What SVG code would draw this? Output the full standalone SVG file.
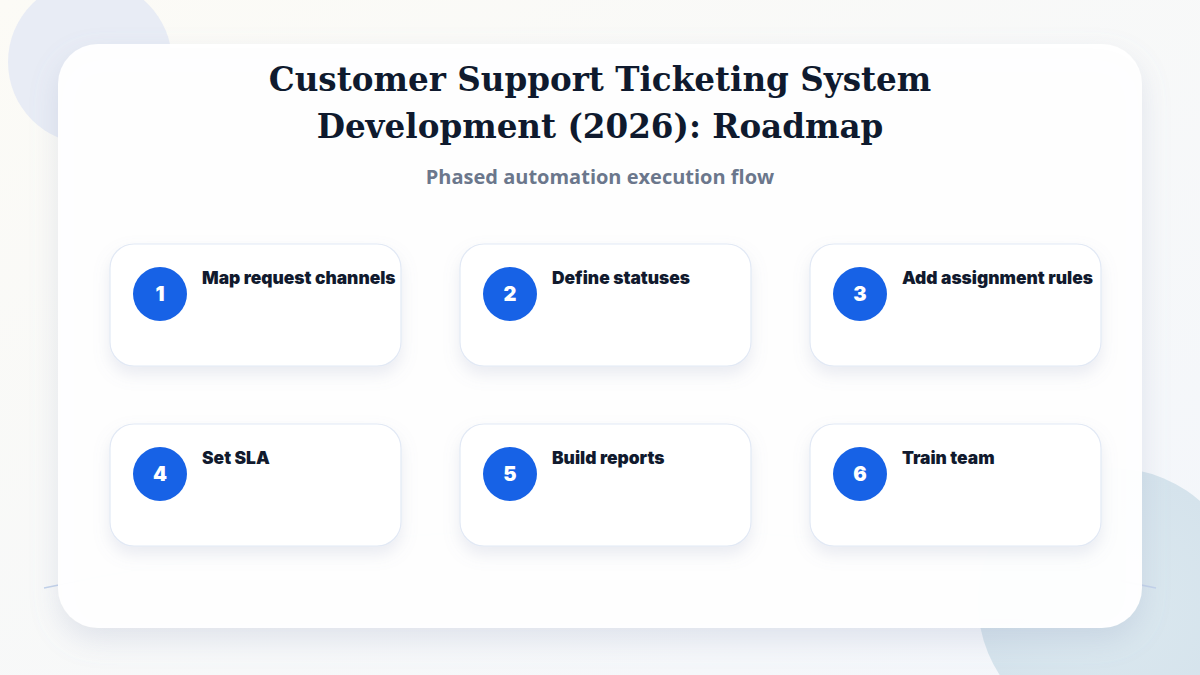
<svg xmlns="http://www.w3.org/2000/svg" width="1200" height="675" viewBox="0 0 1200 675">
<defs>
<filter id="panelShadow" x="-10%" y="-10%" width="120%" height="130%">
<feDropShadow dx="0" dy="12" stdDeviation="14" flood-color="#8a96b8" flood-opacity="0.22"/>
</filter>
<filter id="cardShadow" x="-10%" y="-15%" width="120%" height="150%">
<feDropShadow dx="0" dy="8" stdDeviation="8" flood-color="#8a96b8" flood-opacity="0.18"/>
</filter>
<linearGradient id="bg" x1="0" y1="0" x2="1" y2="1">
<stop offset="0" stop-color="#fcfbf6"/>
<stop offset="1" stop-color="#f3f6fb"/>
</linearGradient>
<radialGradient id="blobBR" cx="0.5" cy="0.5" r="0.5">
<stop offset="0" stop-color="#dbe8ef"/>
<stop offset="1" stop-color="#d5e3ec"/>
</radialGradient>
</defs>
<style>
.card{fill:#ffffff;stroke:#e2e9f5;stroke-width:1.2;filter:url(#cardShadow)}
.badge{fill:#1762e6}
.num{font-family:Inter,"Noto Sans",sans-serif;font-weight:900;font-size:20px;fill:#ffffff;text-anchor:middle}
.label{font-family:Inter,"Noto Sans",sans-serif;font-weight:900;font-size:17.4px;fill:#111a2e}
.title{font-family:"DejaVu Serif","Liberation Serif",serif;font-weight:bold;font-size:32.6px;fill:#0f1a2e;text-anchor:middle}
.sub{font-family:"Open Sans","Noto Sans",sans-serif;font-weight:700;font-size:20px;fill:#6b778c;text-anchor:middle}
</style>
<rect width="1200" height="675" fill="url(#bg)"/>
<circle cx="90" cy="62" r="82" fill="#e8ecf5"/>
<circle cx="1112" cy="602" r="134" fill="url(#blobBR)"/>
<path d="M 44 588 Q 600 470 1156 588" fill="none" stroke="#c3d2ea" stroke-width="1.5"/>
<rect x="58" y="44" width="1084" height="584" rx="40" fill="#ffffff" fill-opacity="0.97" filter="url(#panelShadow)"/>
<text class="title" x="600" y="91">Customer Support Ticketing System</text>
<text class="title" x="600" y="138">Development (2026): Roadmap</text>
<text class="sub" x="600" y="184">Phased automation execution flow</text>
<g id="connectors"></g>
<g id="node1">
<rect class="card" x="110" y="244" width="291" height="122" rx="24"/>
<circle class="badge" cx="160" cy="294" r="27"/>
<text class="num" x="160" y="301">1</text>
<text class="label" x="202" y="284">Map request channels</text>
</g>
<g id="node2">
<rect class="card" x="460" y="244" width="291" height="122" rx="24"/>
<circle class="badge" cx="510" cy="294" r="27"/>
<text class="num" x="510" y="301">2</text>
<text class="label" x="552" y="284">Define statuses</text>
</g>
<g id="node3">
<rect class="card" x="810" y="244" width="291" height="122" rx="24"/>
<circle class="badge" cx="860" cy="294" r="27"/>
<text class="num" x="860" y="301">3</text>
<text class="label" x="902" y="284">Add assignment rules</text>
</g>
<g id="node4">
<rect class="card" x="110" y="424" width="291" height="122" rx="24"/>
<circle class="badge" cx="160" cy="474" r="27"/>
<text class="num" x="160" y="481">4</text>
<text class="label" x="202" y="464">Set SLA</text>
</g>
<g id="node5">
<rect class="card" x="460" y="424" width="291" height="122" rx="24"/>
<circle class="badge" cx="510" cy="474" r="27"/>
<text class="num" x="510" y="481">5</text>
<text class="label" x="552" y="464">Build reports</text>
</g>
<g id="node6">
<rect class="card" x="810" y="424" width="291" height="122" rx="24"/>
<circle class="badge" cx="860" cy="474" r="27"/>
<text class="num" x="860" y="481">6</text>
<text class="label" x="902" y="464">Train team</text>
</g>
</svg>
